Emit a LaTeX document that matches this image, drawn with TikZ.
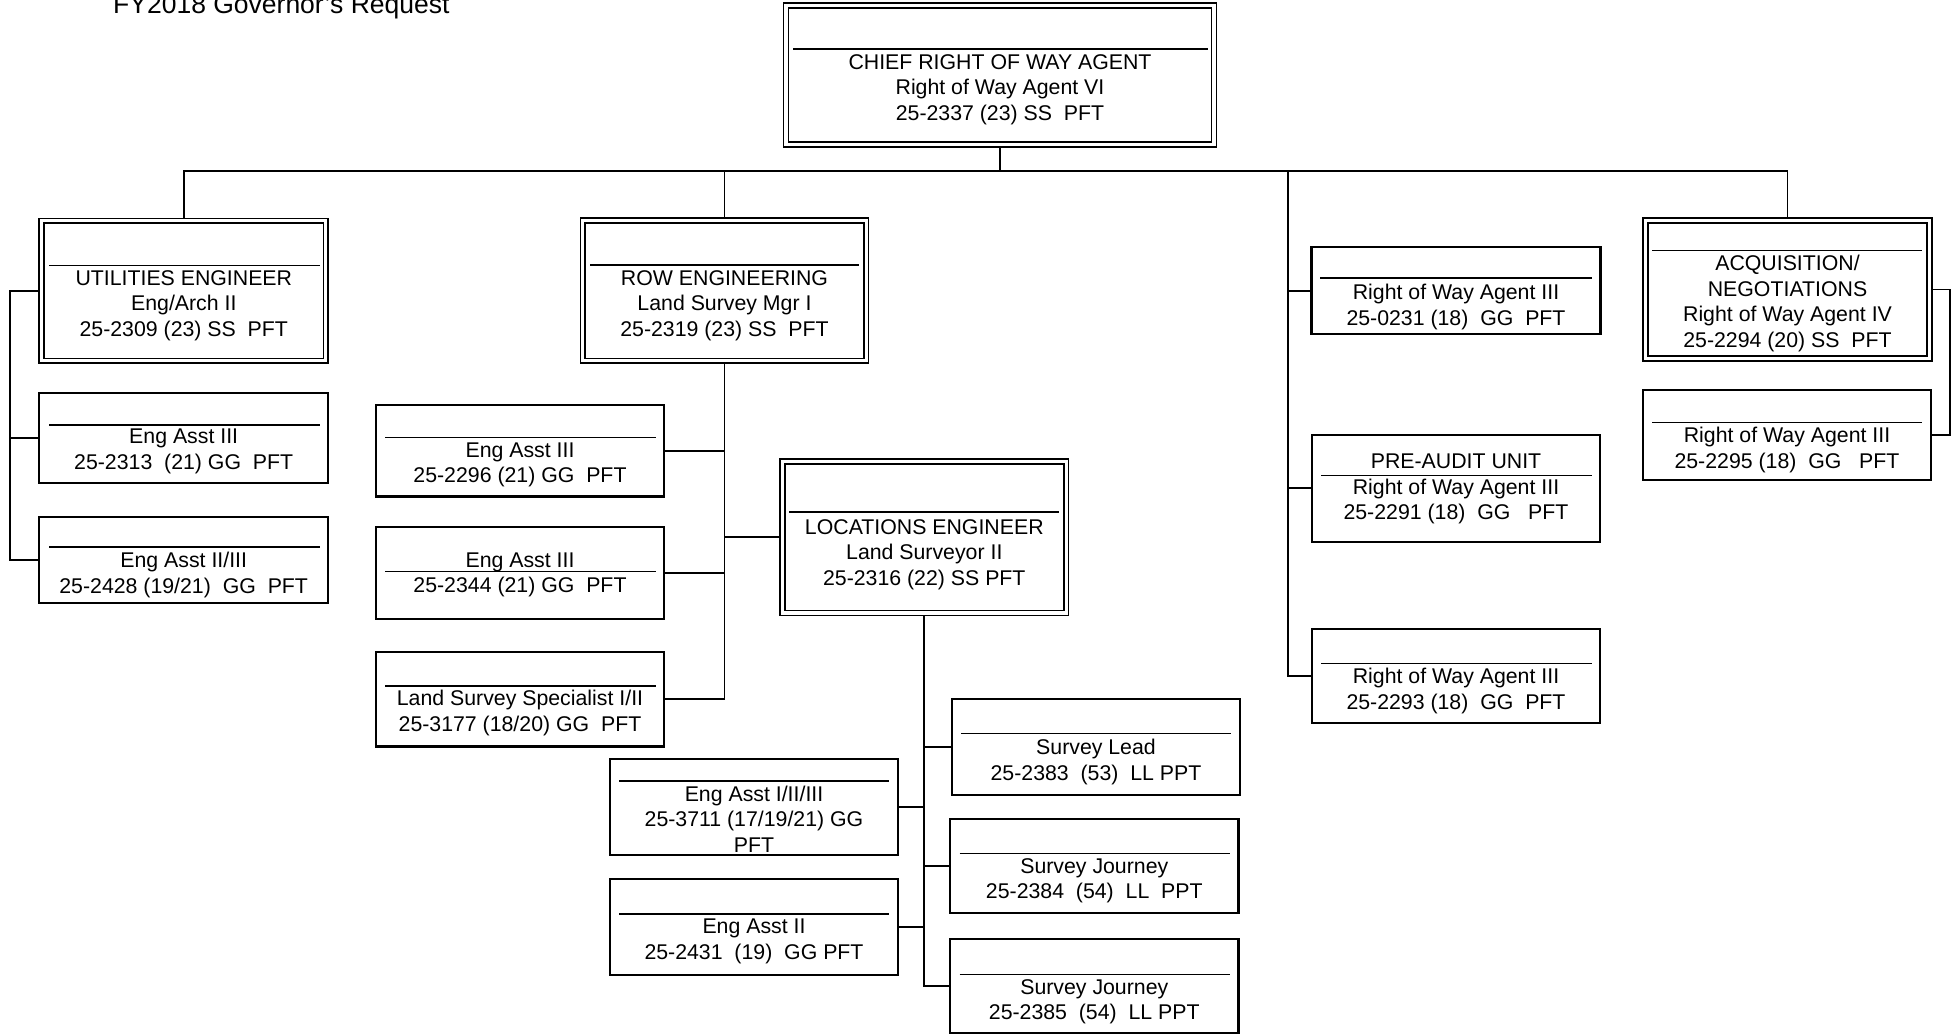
\documentclass[tikz,border=0pt]{standalone}
\usepackage{fontspec}
\setmainfont{Liberation Sans}
\begin{document}
\begin{tikzpicture}[x=1pt, y=-1pt,
  box/.style={draw, line width=2.2pt, inner sep=0pt, outer sep=0pt},
  dbox/.style={draw, line width=1.7pt, double, double distance=3.1pt, inner sep=0pt, outer sep=3.2pt},
  txt/.style={anchor=north, yshift=7.7pt, inner sep=0pt, align=center, font=\fontsize{21.3}{25.5}\selectfont},
  sepline/.style={line width=1.6pt},
  conn/.style={line width=1.7pt}]
\useasboundingbox (0,0) rectangle (1952,1035);

\node[anchor=base west, inner sep=0pt, font=\fontsize{26.5}{30}\selectfont] (title) at (113,14) {FY2018 Governor's Request};

\node[dbox, minimum width=428pt, minimum height=139.4pt] (chief) at (1000,75) {};
\node[dbox, minimum width=284.2pt, minimum height=139.9pt] (util) at (183.8,290.8) {};
\node[dbox, minimum width=283.4pt, minimum height=140.2pt] (row) at (724.5,290.8) {};
\node[dbox, minimum width=284.2pt, minimum height=137.6pt] (acq) at (1787.5,289.5) {};
\node[dbox, minimum width=283.5pt, minimum height=151.5pt] (loc) at (924.3,537.2) {};

\node[box, minimum width=288.7pt, minimum height=90.3pt] (ea2313) at (183.7,438) {};
\node[box, minimum width=288.7pt, minimum height=85.9pt] (ea2428) at (183.7,560) {};
\node[box, minimum width=288.3pt, minimum height=91.4pt] (ea2296) at (520,450.7) {};
\node[box, minimum width=288.3pt, minimum height=91.8pt] (ea2344) at (520,572.7) {};
\node[box, minimum width=288.3pt, minimum height=94.6pt] (lss3177) at (520,699.1) {};
\node[box, minimum width=289pt, minimum height=87pt] (row0231) at (1456,290.8) {};
\node[box, minimum width=288.7pt, minimum height=107pt] (preaudit) at (1456,488.2) {};
\node[box, minimum width=288.7pt, minimum height=94pt] (row2293) at (1456,676.3) {};
\node[box, minimum width=288pt, minimum height=90pt] (row2295) at (1787,435) {};
\node[box, minimum width=288.3pt, minimum height=96pt] (lead2383) at (1096,747) {};
\node[box, minimum width=288.3pt, minimum height=95.7pt] (ea3711) at (754,807) {};
\node[box, minimum width=288.5pt, minimum height=94pt] (sj2384) at (1094.3,866.3) {};
\node[box, minimum width=288.3pt, minimum height=95.7pt] (ea2431) at (754,927) {};
\node[box, minimum width=288.5pt, minimum height=94.6pt] (sj2385) at (1094.3,986) {};

\draw[sepline] (793,49.3) -- (1208,49.3);
\draw[sepline] (49,265.3) -- (319.6,265.3);
\draw[sepline] (590,265) -- (859,265);
\draw[sepline] (1652,250.7) -- (1922,250.7);
\draw[sepline] (789.3,511.7) -- (1059.3,511.7);
\draw[sepline] (49,425) -- (320,425);
\draw[sepline] (49,547) -- (320,547);
\draw[sepline] (385,437.5) -- (655.5,437.5);
\draw[sepline] (385,571.4) -- (655.5,571.4);
\draw[sepline] (385,685.7) -- (655.5,685.7);
\draw[sepline] (1320,277.7) -- (1592,277.7);
\draw[sepline] (1321,475.3) -- (1592,475.3);
\draw[sepline] (1321,663.3) -- (1592,663.3);
\draw[sepline] (1652,422.3) -- (1922,422.3);
\draw[sepline] (961,733.3) -- (1231,733.3);
\draw[sepline] (619,780.7) -- (889,780.7);
\draw[sepline] (959.5,853.3) -- (1229.5,853.3);
\draw[sepline] (619,914) -- (889,914);
\draw[sepline] (959.5,974.3) -- (1229.5,974.3);

\node[txt] (chief-t) at (1000,62) {CHIEF RIGHT OF WAY AGENT\\Right of Way Agent VI\\25-2337 (23) SS~~PFT};
\node[txt] (util-t) at (183.8,277.7) {UTILITIES ENGINEER\\Eng/Arch II\\25-2309 (23) SS~~PFT};
\node[txt] (row-t) at (724.5,277.7) {ROW ENGINEERING\\Land Survey Mgr I\\25-2319 (23) SS~~PFT};
\node[txt] (acq-t) at (1787.5,262.7) {ACQUISITION/\\NEGOTIATIONS\\Right of Way Agent IV\\25-2294 (20) SS~~PFT};
\node[txt] (loc-t) at (924.3,526.7) {LOCATIONS ENGINEER\\Land Surveyor II\\25-2316 (22) SS PFT};
\node[txt] (ea2313-t) at (183.7,436.4) {Eng Asst III\\25-2313~~(21) GG~~PFT};
\node[txt] (ea2428-t) at (183.7,560) {Eng Asst II/III\\25-2428 (19/21)~~GG~~PFT};
\node[txt] (ea2296-t) at (520,450) {Eng Asst III\\25-2296 (21) GG~~PFT};
\node[txt] (ea2344-t) at (520,560) {Eng Asst III\\25-2344 (21) GG~~PFT};
\node[txt] (lss3177-t) at (520,698) {Land Survey Specialist I/II\\25-3177 (18/20) GG~~PFT};
\node[txt] (row0231-t) at (1456,291.7) {Right of Way Agent III\\25-0231 (18)~~GG~~PFT};
\node[txt] (preaudit-t) at (1456,461.7) {PRE-AUDIT UNIT\\Right of Way Agent III\\25-2291 (18)~~GG~~~PFT};
\node[txt] (row2293-t) at (1456,676) {Right of Way Agent III\\25-2293 (18)~~GG~~PFT};
\node[txt] (row2295-t) at (1787,435) {Right of Way Agent III\\25-2295 (18)~~GG~~~PFT};
\node[txt] (lead2383-t) at (1096,746.7) {Survey Lead\\25-2383~~(53)~~LL PPT};
\node[txt] (ea3711-t) at (754,793.3) {Eng Asst I/II/III\\25-3711 (17/19/21) GG\\PFT};
\node[txt] (sj2384-t) at (1094.3,866) {Survey Journey\\25-2384~~(54)~~LL~~PPT};
\node[txt] (ea2431-t) at (754,926.7) {Eng Asst II\\25-2431~~(19)~~GG PFT};
\node[txt] (sj2385-t) at (1094.3,986.7) {Survey Journey\\25-2385~~(54)~~LL PPT};

\coordinate (bus) at (1000,171);
\coordinate (rcol) at (1288,171);
\coordinate (ucol) at (10,0);
\coordinate (acol) at (1950,0);

\draw[conn] (chief.south) -- (bus);
\draw[conn] (util.north) -- (util.north |- bus) -- (acq.north |- bus) -- (acq.north);
\draw[conn] (row.north) -- (row.north |- bus);
\draw[conn] (rcol) |- (row2293.west);
\draw[conn] (rcol |- row0231.west) -- (row0231.west);
\draw[conn] (rcol |- preaudit.west) -- (preaudit.west);

\draw[conn] (util.west) -- (util.west -| ucol) |- (ea2428.west);
\draw[conn] (ea2313.west) -- (ea2313.west -| ucol);

\draw[conn] (row.south) |- (lss3177.east);
\draw[conn] (ea2296.east) -- (ea2296.east -| row.south);
\draw[conn] (ea2344.east) -- (ea2344.east -| row.south);
\draw[conn] (loc.west) -- (loc.west -| row.south);

\draw[conn] (loc.south) |- (sj2385.west);
\draw[conn] (lead2383.west) -- (lead2383.west -| loc.south);
\draw[conn] (sj2384.west) -- (sj2384.west -| loc.south);
\draw[conn] (ea3711.east) -- (ea3711.east -| loc.south);
\draw[conn] (ea2431.east) -- (ea2431.east -| loc.south);

\draw[conn] (acq.east) -- (acq.east -| acol) |- (row2295.east);
\end{tikzpicture}
\end{document}
